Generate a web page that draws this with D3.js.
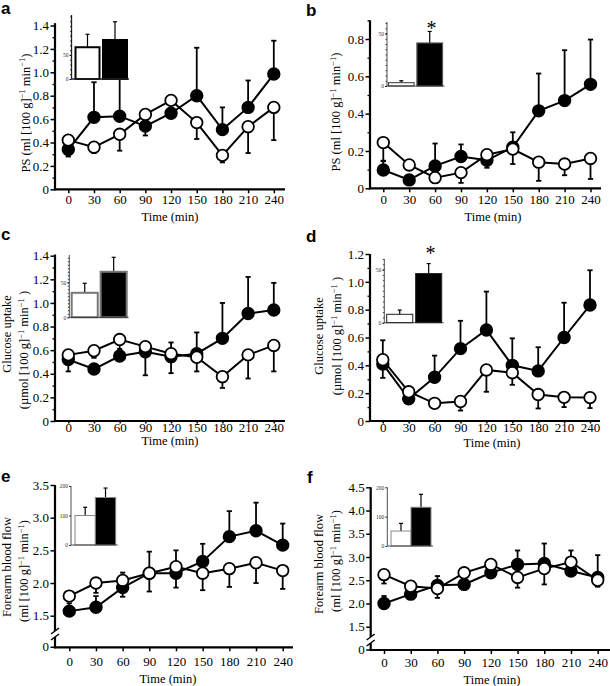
<!DOCTYPE html>
<html><head><meta charset="utf-8">
<script src="https://cdn.jsdelivr.net/npm/d3@7"></script>
<style>
body{margin:0;background:#fff}
svg{display:block}
</style>
</head><body>
<svg id="chart" width="610" height="686"></svg>
<script>
// ---------- DATA ----------
const times = [0, 30, 60, 90, 120, 150, 180, 210, 240];
const groups = ["open", "filled"];

// error values: positive = bar drawn upward, negative = downward
// Panel a: PS
const aOpen = [0.42, 0.36, 0.47, 0.64, 0.76, 0.57, 0.29, 0.535, 0.70];
const aOpenErr = [0, -0.05, -0.14, 0.03, 0, -0.14, -0.06, -0.225, -0.28];
const aFilled = [0.34, 0.615, 0.625, 0.54, 0.65, 0.80, 0.51, 0.70, 0.985];
const aFilledErr = [-0.06, 0.30, 0.35, -0.08, 0.07, 0.41, 0.19, 0.23, 0.285];
const aInset = [66, 81];
const aInsetErr = [27, 38];

// Panel b: PS
const bOpen = [0.245, 0.125, 0.057, 0.084, 0.18, 0.21, 0.14, 0.13, 0.16];
const bOpenErr = [-0.10, 0, 0, -0.055, 0, -0.08, -0.10, -0.06, -0.11];
const bFilled = [0.098, 0.045, 0.12, 0.17, 0.15, 0.22, 0.415, 0.47, 0.557];
const bFilledErr = [0.05, 0, 0.12, 0.065, -0.04, 0.08, 0.20, 0.27, 0.24];
const bInset = [3.2, 41];
const bInsetErr = [1.8, 11];

// Panel c: glucose uptake
const cOpen = [0.56, 0.595, 0.69, 0.63, 0.57, 0.54, 0.375, 0.56, 0.64];
const cOpenErr = [0, -0.06, -0.08, 0, 0.095, -0.12, -0.095, -0.20, -0.22];
const cFilled = [0.52, 0.44, 0.55, 0.587, 0.545, 0.57, 0.70, 0.91, 0.94];
const cFilledErr = [-0.10, 0, 0, -0.20, -0.14, 0.18, 0.30, 0.31, 0.23];
const cInset = [35, 65];
const cInsetErr = [13.6, 20.7];

// Panel d: glucose uptake
const dOpen = [0.44, 0.21, 0.127, 0.14, 0.367, 0.347, 0.19, 0.17, 0.168];
const dOpenErr = [0.14, 0, 0, -0.065, -0.157, -0.087, -0.10, -0.07, -0.075];
const dFilled = [0.41, 0.16, 0.314, 0.52, 0.654, 0.40, 0.36, 0.60, 0.833];
const dFilledErr = [-0.10, 0, 0.156, 0.20, 0.276, 0.194, 0.17, 0.25, 0.25];
const dInset = [7.9, 46.3];
const dInsetErr = [4, 9.4];

// Panel e: forearm blood flow
const eOpen = [1.80, 2.0, 2.04, 2.15, 2.25, 2.15, 2.22, 2.31, 2.19];
const eOpenErr = [0, -0.15, 0.12, -0.28, 0.25, -0.26, -0.28, -0.31, -0.28];
const eFilled = [1.57, 1.63, 1.93, 2.15, 2.15, 2.33, 2.71, 2.80, 2.58];
const eFilledErr = [0.12, 0.17, -0.14, 0.33, -0.22, 0.27, 0.39, 0.43, 0.33];
const eInset = [100, 161];
const eInsetErr = [28, 32];

// Panel f: forearm blood flow
const fOpen = [2.62, 2.37, 2.32, 2.66, 2.84, 2.56, 2.75, 2.89, 2.50];
const fOpenErr = [-0.19, 0, -0.20, 0, 0, -0.22, -0.34, 0.25, -0.14];
const fFilled = [2.0, 2.20, 2.39, 2.41, 2.66, 2.84, 2.86, 2.70, 2.56];
const fFilledErr = [0.16, 0.15, 0.20, 0.22, 0.12, 0.30, 0.43, 0, 0.48];
const fInset = [51, 132];
const fInsetErr = [26, 44];

// tick labels
const ticks14 = [0, 0.2, 0.4, 0.6, 0.8, 1.0, 1.2, 1.4];
const ticks08 = [0, 0.2, 0.4, 0.6, 0.8];
const ticks12 = [0, 0.2, 0.4, 0.6, 0.8, 1.0, 1.2];
const ticksE = [1.5, 2.0, 2.5, 3.0, 3.5];
const ticksF = [1.5, 2.0, 2.5, 3.0, 3.5, 4.0, 4.5];
const minor14 = [0.1, 0.3, 0.5, 0.7, 0.9, 1.1, 1.3];
const minor09 = [0.1, 0.3, 0.5, 0.7, 0.9];
const minor12 = [0.1, 0.3, 0.5, 0.7, 0.9, 1.1];

const SUP = "\u22121";
const psLabel = [["PS (ml [100 g]", SUP, " min", SUP, ")"]];
const gluLabel = [["Glucose uptake"], ["(\u00b5mol [100 g]", SUP, " min", SUP, " )"]];
const fbfLabel = [["Forearm blood flow"], ["(ml [100 g]", SUP, "  min", SUP, ")"]];

// ---------- LAYOUT ----------
const SERIF = "'Liberation Serif','Times New Roman',serif";
const SANS = "'Liberation Sans',Arial,sans-serif";
const FS = 13;     // tick labels
const LFS = 12.5;  // axis titles
const svg = d3.select("#chart");

const panels = [
  { letter: "a", lx: 1, ly: 14, open: aOpen, openErr: aOpenErr, filled: aFilled, filledErr: aFilledErr,
    x0: 68.3, x1: 273.8, axL: 55, axR: 285, yb: 189.3, yDom: [0, 1.4], yRng: [189.3, 25.5], axTopV: 1.42,
    major: ticks14, minor: minor14, broken: false, xTick: 4, xLab: 14.8,
    ylab: psLabel, ylx: [29.5], yly: [113], timeX: 170, timeY: 221,
    inset: { vals: aInset, errs: aInsetErr, axX: 71.5, top: 15, base: 79, dom: [0, 133], labels: [0, 50], minorStep: 10,
             band: [75.5, 127], pi: 0.127, stroke: "#000", sw: 2, axW: 1.3 } },
  { letter: "b", lx: 306, ly: 16, open: bOpen, openErr: bOpenErr, filled: bFilled, filledErr: bFilledErr,
    x0: 383.3, x1: 590.5, axL: 370, axR: 601, yb: 188.3, yDom: [0, 0.8], yRng: [188.3, 39], axTopV: 0.9,
    major: ticks08, minor: minor09, broken: false, xTick: 4, xLab: 15.7,
    ylab: psLabel, ylx: [340], yly: [112], timeX: 493, timeY: 221,
    inset: { vals: bInset, errs: bInsetErr, axX: 387, top: 22, base: 86, dom: [0, 61], labels: [0, 50], minorStep: 5,
             band: [388.5, 442.5], pi: 0.1, stroke: "#555", sw: 1.2, axW: 0.8, star: [431.5, 35] } },
  { letter: "c", lx: 1, ly: 240, open: cOpen, openErr: cOpenErr, filled: cFilled, filledErr: cFilledErr,
    x0: 68.3, x1: 273.8, axL: 55, axR: 285, yb: 421, yDom: [0, 1.4], yRng: [421, 255.7], axTopV: 1.41,
    major: ticks14, minor: minor14, broken: false, xTick: 2.5, xLab: 10.8,
    ylab: gluLabel, ylx: [11, 28], yly: [334, 350], timeX: 170, timeY: 445,
    inset: { vals: cInset, errs: cInsetErr, axX: 69.3, top: 255, base: 317.3, dom: [0, 89], labels: [0, 50], minorStep: 5,
             band: [71.7, 126.7], pi: 0.1, stroke: "#777", sw: 2, axW: 0.8 } },
  { letter: "d", lx: 306, ly: 241.7, open: dOpen, openErr: dOpenErr, filled: dFilled, filledErr: dFilledErr,
    x0: 382.8, x1: 590, axL: 370, axR: 600, yb: 421, yDom: [0, 1.2], yRng: [421, 254], axTopV: 1.2,
    major: ticks12, minor: minor12, broken: false, xTick: 2.5, xLab: 11.2,
    ylab: gluLabel, ylx: [323, 341], yly: [336, 336], timeX: 492, timeY: 447,
    inset: { vals: dInset, errs: dInsetErr, axX: 384.3, top: 259, base: 322.7, dom: [0, 60], labels: [0, 50], minorStep: 5,
             band: [386.7, 441.7], pi: 0.1, stroke: "#222", sw: 1, axW: 0.8, star: [430.5, 260] } },
  { letter: "e", lx: 1, ly: 481.7, open: eOpen, openErr: eOpenErr, filled: eFilled, filledErr: eFilledErr,
    x0: 69.3, x1: 282.7, axL: 55, axR: 293, yb: 647.3, yDom: [1.5, 3.5], yRng: [615.7, 485], axTopV: 3.5,
    major: ticksE, minor: [], broken: true, breakY: 634, xTick: 4, xLab: 18.5,
    ylab: fbfLabel, ylx: [11, 28], yly: [567, 571], timeX: 168, timeY: 683,
    inset: { vals: eInset, errs: eInsetErr, axX: 71, top: 486, base: 545, dom: [0, 200], labels: [0, 100, 200], minorStep: 0,
             band: [75, 115.7], pi: 0, stroke: "#888", sw: 1, axW: 0.8 } },
  { letter: "f", lx: 307, ly: 483, open: fOpen, openErr: fOpenErr, filled: fFilled, filledErr: fFilledErr,
    x0: 384, x1: 597.7, axL: 370.7, axR: 610, yb: 650, yDom: [1.5, 4.5], yRng: [626.7, 487.3], axTopV: 4.5,
    major: ticksF, minor: [], broken: true, breakY: 640, xTick: 4, xLab: 17,
    ylab: fbfLabel, ylx: [323, 340], yly: [564, 561], timeX: 492, timeY: 684,
    inset: { vals: fInset, errs: fInsetErr, axX: 387.3, top: 487.3, base: 546, dom: [0, 200], labels: [0, 100, 200], minorStep: 0,
             band: [391, 431], pi: 0, stroke: "#888", sw: 1, axW: 0.8 } }
];

function fmt(v) { return v === 0 ? "0" : v.toFixed(1); }

function drawPanel(p) {
  const g = svg.append("g");
  const x = d3.scaleLinear().domain([0, 240]).range([p.x0, p.x1]);
  const y = d3.scaleLinear().domain(p.yDom).range(p.yRng);

  // panel letter
  g.append("text").attr("x", p.lx).attr("y", p.ly).attr("font-family", SANS)
    .attr("font-weight", "bold").attr("font-size", 17).text(p.letter);

  // x axis
  const gx = g.append("g").attr("transform", `translate(0,${p.yb})`)
    .call(d3.axisBottom(x).tickValues(times).tickSize(p.xTick).tickPadding(p.xLab - p.xTick - 0.71 * FS).tickFormat(d3.format("d")));
  gx.select(".domain").remove();
  gx.attr("font-family", SERIF).attr("font-size", FS);
  gx.selectAll("line").attr("stroke-width", 1.5);
  g.append("line").attr("x1", p.axL - 1).attr("x2", p.axR).attr("y1", p.yb).attr("y2", p.yb)
    .attr("stroke", "#000").attr("stroke-width", 2.2);

  // y axis
  const gy = g.append("g").attr("transform", `translate(${p.axL},0)`)
    .call(d3.axisLeft(y).tickValues(p.major).tickSize(4.5).tickPadding(1.5).tickFormat(fmt));
  gy.select(".domain").remove();
  gy.attr("font-family", SERIF).attr("font-size", FS);
  gy.selectAll("line").attr("stroke-width", 1.5);
  if (p.minor.length) {
    const gm = g.append("g").attr("transform", `translate(${p.axL},0)`)
      .call(d3.axisLeft(y).tickValues(p.minor).tickSize(2.5).tickFormat(""));
    gm.select(".domain").remove();
    gm.selectAll("line").attr("stroke-width", 1.3);
  }
  if (p.broken) {
    g.append("line").attr("x1", p.axL - 4.5).attr("x2", p.axL).attr("y1", p.yb).attr("y2", p.yb)
      .attr("stroke", "#000").attr("stroke-width", 1.5);
    g.append("text").attr("x", p.axL - 6).attr("y", p.yb).attr("dy", "0.32em").attr("text-anchor", "end")
      .attr("font-family", SERIF).attr("font-size", FS).text("0");
    g.append("line").attr("x1", p.axL).attr("x2", p.axL).attr("y1", y(p.axTopV)).attr("y2", p.breakY - 3)
      .attr("stroke", "#000").attr("stroke-width", 2.2);
    g.append("line").attr("x1", p.axL).attr("x2", p.axL).attr("y1", p.breakY + 3).attr("y2", p.yb + 1)
      .attr("stroke", "#000").attr("stroke-width", 2.2);
    [-3, 3].forEach(o => {
      g.append("line").attr("x1", p.axL - 4).attr("x2", p.axL + 4)
        .attr("y1", p.breakY + o + 3).attr("y2", p.breakY + o - 3)
        .attr("stroke", "#000").attr("stroke-width", 1.5);
    });
  } else {
    g.append("line").attr("x1", p.axL).attr("x2", p.axL).attr("y1", y(p.axTopV)).attr("y2", p.yb + 1)
      .attr("stroke", "#000").attr("stroke-width", 2.2);
  }

  // y label
  p.ylab.forEach((parts, i) => {
    const t = g.append("text").attr("transform", `translate(${p.ylx[i]},${p.yly[i]}) rotate(-90)`)
      .attr("text-anchor", "middle").attr("font-family", SERIF).attr("font-size", LFS);
    parts.forEach((s, j) => {
      const sup = s === SUP;
      const ts = t.append("tspan").text(s);
      if (sup) ts.attr("font-size", 8.5).attr("dy", -4.5);
      else if (j > 0) ts.attr("dy", 4.5);
    });
  });

  // time label
  g.append("text").attr("x", p.timeX).attr("y", p.timeY).attr("text-anchor", "middle")
    .attr("font-family", SERIF).attr("font-size", LFS).text("Time (min)");

  // series
  const series = [
    { vals: p.filled, errs: p.filledErr, fill: "#000" },
    { vals: p.open, errs: p.openErr, fill: "#fff" }
  ];
  const line = d3.line().x((d, i) => x(times[i])).y(d => y(d));
  series.forEach(s => {
    g.append("path").attr("d", line(s.vals)).attr("fill", "none").attr("stroke", "#000").attr("stroke-width", 2);
  });
  series.forEach(s => {
    s.vals.forEach((v, i) => {
      const e = s.errs[i];
      if (!e) return;
      const cx = x(times[i]);
      g.append("line").attr("x1", cx).attr("x2", cx).attr("y1", y(v)).attr("y2", y(v + e))
        .attr("stroke", "#000").attr("stroke-width", 1.8);
      g.append("line").attr("x1", cx - 2.6).attr("x2", cx + 2.6).attr("y1", y(v + e)).attr("y2", y(v + e))
        .attr("stroke", "#000").attr("stroke-width", 1.8);
    });
  });
  series.forEach(s => {
    g.selectAll(null).data(s.vals).enter().append("circle")
      .attr("cx", (d, i) => x(times[i])).attr("cy", d => y(d)).attr("r", 5.8)
      .attr("fill", s.fill).attr("stroke", "#000").attr("stroke-width", 1.8);
  });

  // inset bar chart
  const ins = p.inset;
  const iy = d3.scaleLinear().domain(ins.dom).range([ins.base, ins.top]);
  const ib = d3.scaleBand().domain(groups).range(ins.band).paddingInner(ins.pi).paddingOuter(0);
  const gi = g.append("g");
  gi.selectAll(null).data(ins.vals).enter().append("line")
    .attr("x1", (d, i) => ib(groups[i]) + ib.bandwidth() / 2).attr("x2", (d, i) => ib(groups[i]) + ib.bandwidth() / 2)
    .attr("y1", d => iy(d)).attr("y2", (d, i) => iy(d + ins.errs[i]))
    .attr("stroke", "#000").attr("stroke-width", 1.2);
  gi.selectAll(null).data(ins.vals).enter().append("line")
    .attr("x1", (d, i) => ib(groups[i]) + ib.bandwidth() / 2 - 2).attr("x2", (d, i) => ib(groups[i]) + ib.bandwidth() / 2 + 2)
    .attr("y1", (d, i) => iy(d + ins.errs[i])).attr("y2", (d, i) => iy(d + ins.errs[i]))
    .attr("stroke", "#000").attr("stroke-width", 1.2);
  gi.selectAll(null).data(ins.vals).enter().append("rect")
    .attr("x", (d, i) => ib(groups[i])).attr("width", ib.bandwidth())
    .attr("y", d => iy(d)).attr("height", d => iy(0) - iy(d))
    .attr("fill", (d, i) => i === 0 ? "#fff" : "#000")
    .attr("stroke", ins.stroke).attr("stroke-width", ins.sw);
  gi.append("line").attr("x1", ins.axX).attr("x2", ins.axX).attr("y1", ins.top).attr("y2", ins.base)
    .attr("stroke", "#222").attr("stroke-width", ins.axW);
  gi.append("line").attr("x1", ins.axX).attr("x2", ins.band[1] + 2).attr("y1", ins.base).attr("y2", ins.base)
    .attr("stroke", "#222").attr("stroke-width", ins.axW);
  const ga = gi.append("g").attr("transform", `translate(${ins.axX},0)`)
    .call(d3.axisLeft(iy).tickValues(ins.labels).tickSize(2).tickPadding(1).tickFormat(d3.format("d")));
  ga.select(".domain").remove();
  ga.attr("font-family", SERIF).attr("font-size", 5.5);
  ga.selectAll("line").attr("stroke-width", 0.8);
  ga.selectAll("text").attr("fill", "#333");
  if (ins.minorStep) {
    const mt = d3.range(0, ins.dom[1] + 0.001, ins.minorStep);
    const gmi = gi.append("g").attr("transform", `translate(${ins.axX},0)`)
      .call(d3.axisLeft(iy).tickValues(mt).tickSize(1.5).tickFormat(""));
    gmi.select(".domain").remove();
    gmi.selectAll("line").attr("stroke-width", 0.7);
  }
  if (ins.star) {
    gi.append("text").attr("x", ins.star[0]).attr("y", ins.star[1]).attr("text-anchor", "middle")
      .attr("font-family", SERIF).attr("font-size", 20).text("*");
  }
}

panels.forEach(drawPanel);
</script>
</body></html>
